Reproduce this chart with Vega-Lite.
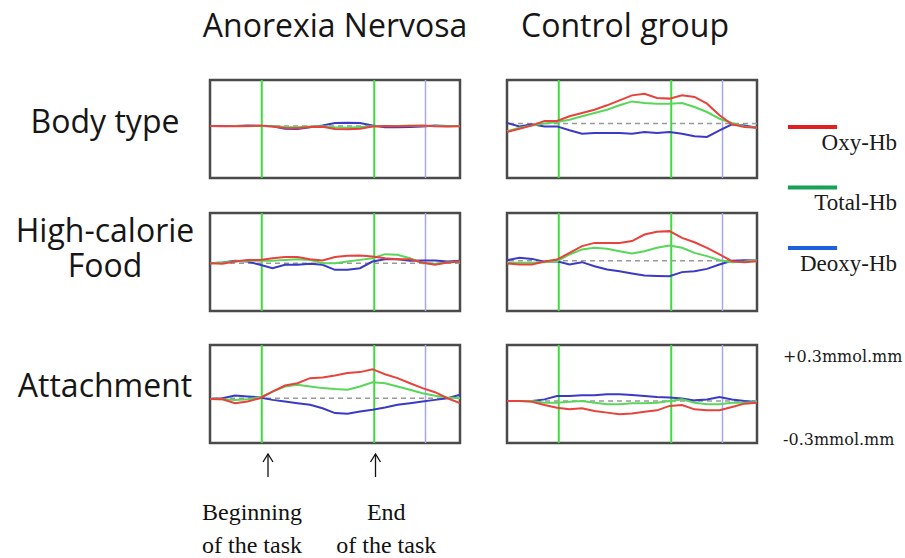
{
"$schema":"https://vega.github.io/schema/vega-lite/v6.json",
"padding":0,
"background":"white",
"config":{"view":{"stroke":null},"concat":{"spacing":0}},
"datasets":{
"hb":[
{"p":"AN1","t":0,"oxy":0.019,"tot":0.019,"deo":0.019},{"p":"AN1","t":5,"oxy":0.019,"tot":0.019,"deo":0.017},{"p":"AN1","t":10,"oxy":0.017,"tot":0.019,"deo":0.019},{"p":"AN1","t":15,"oxy":0.019,"tot":0.017,"deo":0.021},{"p":"AN1","t":20,"oxy":0.021,"tot":0.019,"deo":0.019},{"p":"AN1","t":25,"oxy":0.015,"tot":0.019,"deo":0.017},{"p":"AN1","t":30,"oxy":0.006,"tot":0.012,"deo":0.002},{"p":"AN1","t":35,"oxy":0.004,"tot":0.010,"deo":0.000},{"p":"AN1","t":40,"oxy":0.012,"tot":0.015,"deo":0.010},{"p":"AN1","t":45,"oxy":0.014,"tot":0.017,"deo":0.021},{"p":"AN1","t":50,"oxy":0.000,"tot":0.010,"deo":0.036},{"p":"AN1","t":55,"oxy":-0.002,"tot":0.008,"deo":0.038},{"p":"AN1","t":60,"oxy":0.002,"tot":0.012,"deo":0.036},{"p":"AN1","t":65,"oxy":0.015,"tot":0.017,"deo":0.021},{"p":"AN1","t":70,"oxy":0.019,"tot":0.019,"deo":0.011},{"p":"AN1","t":75,"oxy":0.017,"tot":0.019,"deo":0.010},{"p":"AN1","t":80,"oxy":0.019,"tot":0.021,"deo":0.012},{"p":"AN1","t":85,"oxy":0.021,"tot":0.019,"deo":0.015},{"p":"AN1","t":90,"oxy":0.017,"tot":0.019,"deo":0.021},{"p":"AN1","t":95,"oxy":0.015,"tot":0.017,"deo":0.019},{"p":"AN1","t":100,"oxy":0.017,"tot":0.019,"deo":0.019},
{"p":"CG1","t":0,"oxy":-0.018,"tot":-0.014,"deo":0.037},{"p":"CG1","t":5,"oxy":0.002,"tot":0.008,"deo":0.016},{"p":"CG1","t":10,"oxy":0.022,"tot":0.022,"deo":0.029},{"p":"CG1","t":15,"oxy":0.049,"tot":0.033,"deo":0.016},{"p":"CG1","t":20,"oxy":0.049,"tot":0.043,"deo":0.016},{"p":"CG1","t":25,"oxy":0.078,"tot":0.057,"deo":-0.008},{"p":"CG1","t":30,"oxy":0.098,"tot":0.078,"deo":-0.029},{"p":"CG1","t":35,"oxy":0.118,"tot":0.098,"deo":-0.024},{"p":"CG1","t":40,"oxy":0.145,"tot":0.118,"deo":-0.024},{"p":"CG1","t":45,"oxy":0.175,"tot":0.145,"deo":-0.024},{"p":"CG1","t":50,"oxy":0.206,"tot":0.169,"deo":-0.029},{"p":"CG1","t":55,"oxy":0.216,"tot":0.159,"deo":-0.018},{"p":"CG1","t":60,"oxy":0.190,"tot":0.155,"deo":-0.024},{"p":"CG1","t":65,"oxy":0.186,"tot":0.155,"deo":-0.018},{"p":"CG1","t":70,"oxy":0.206,"tot":0.159,"deo":-0.029},{"p":"CG1","t":75,"oxy":0.196,"tot":0.135,"deo":-0.045},{"p":"CG1","t":80,"oxy":0.155,"tot":0.104,"deo":-0.049},{"p":"CG1","t":85,"oxy":0.084,"tot":0.063,"deo":-0.008},{"p":"CG1","t":90,"oxy":0.029,"tot":0.037,"deo":0.029},{"p":"CG1","t":95,"oxy":0.012,"tot":0.016,"deo":0.022},{"p":"CG1","t":100,"oxy":0.008,"tot":0.008,"deo":0.008},
{"p":"AN2","t":0,"oxy":-0.007,"tot":-0.007,"deo":-0.007},{"p":"AN2","t":5,"oxy":-0.011,"tot":-0.003,"deo":-0.003},{"p":"AN2","t":10,"oxy":0.003,"tot":0.003,"deo":0.007},{"p":"AN2","t":15,"oxy":0.013,"tot":0.007,"deo":0.003},{"p":"AN2","t":20,"oxy":0.013,"tot":0.007,"deo":-0.017},{"p":"AN2","t":25,"oxy":0.023,"tot":0.007,"deo":-0.038},{"p":"AN2","t":30,"oxy":0.030,"tot":0.013,"deo":-0.017},{"p":"AN2","t":35,"oxy":0.030,"tot":0.017,"deo":-0.017},{"p":"AN2","t":40,"oxy":0.017,"tot":0.013,"deo":-0.011},{"p":"AN2","t":45,"oxy":0.009,"tot":-0.007,"deo":-0.017},{"p":"AN2","t":50,"oxy":0.030,"tot":-0.007,"deo":-0.048},{"p":"AN2","t":55,"oxy":0.038,"tot":0.003,"deo":-0.048},{"p":"AN2","t":60,"oxy":0.040,"tot":0.013,"deo":-0.038},{"p":"AN2","t":65,"oxy":0.034,"tot":0.023,"deo":0.003},{"p":"AN2","t":70,"oxy":0.023,"tot":0.048,"deo":0.017},{"p":"AN2","t":75,"oxy":0.017,"tot":0.044,"deo":0.017},{"p":"AN2","t":80,"oxy":0.017,"tot":0.023,"deo":0.007},{"p":"AN2","t":85,"oxy":-0.003,"tot":-0.007,"deo":0.009},{"p":"AN2","t":90,"oxy":-0.017,"tot":-0.011,"deo":0.009},{"p":"AN2","t":95,"oxy":-0.003,"tot":-0.003,"deo":0.003},{"p":"AN2","t":100,"oxy":0.003,"tot":0.003,"deo":0.007},
{"p":"CG2","t":0,"oxy":-0.009,"tot":-0.005,"deo":0.011},{"p":"CG2","t":5,"oxy":-0.015,"tot":-0.005,"deo":0.026},{"p":"CG2","t":10,"oxy":-0.015,"tot":-0.005,"deo":0.019},{"p":"CG2","t":15,"oxy":0.003,"tot":-0.001,"deo":0.001},{"p":"CG2","t":20,"oxy":0.015,"tot":0.005,"deo":0.005},{"p":"CG2","t":25,"oxy":0.056,"tot":0.046,"deo":-0.015},{"p":"CG2","t":30,"oxy":0.097,"tot":0.077,"deo":-0.001},{"p":"CG2","t":35,"oxy":0.117,"tot":0.087,"deo":-0.026},{"p":"CG2","t":40,"oxy":0.117,"tot":0.081,"deo":-0.046},{"p":"CG2","t":45,"oxy":0.117,"tot":0.066,"deo":-0.056},{"p":"CG2","t":50,"oxy":0.128,"tot":0.052,"deo":-0.070},{"p":"CG2","t":55,"oxy":0.168,"tot":0.066,"deo":-0.083},{"p":"CG2","t":60,"oxy":0.185,"tot":0.087,"deo":-0.085},{"p":"CG2","t":65,"oxy":0.189,"tot":0.101,"deo":-0.087},{"p":"CG2","t":70,"oxy":0.148,"tot":0.087,"deo":-0.062},{"p":"CG2","t":75,"oxy":0.121,"tot":0.056,"deo":-0.056},{"p":"CG2","t":80,"oxy":0.087,"tot":0.036,"deo":-0.042},{"p":"CG2","t":85,"oxy":0.046,"tot":0.011,"deo":-0.015},{"p":"CG2","t":90,"oxy":0.005,"tot":-0.001,"deo":0.007},{"p":"CG2","t":95,"oxy":-0.001,"tot":0.003,"deo":0.011},{"p":"CG2","t":100,"oxy":0.005,"tot":0.009,"deo":0.009},
{"p":"AN3","t":0,"oxy":-0.030,"tot":-0.030,"deo":-0.030},{"p":"AN3","t":5,"oxy":-0.032,"tot":-0.032,"deo":-0.026},{"p":"AN3","t":10,"oxy":-0.056,"tot":-0.036,"deo":-0.009},{"p":"AN3","t":15,"oxy":-0.046,"tot":-0.032,"deo":-0.015},{"p":"AN3","t":20,"oxy":-0.026,"tot":-0.021,"deo":-0.021},{"p":"AN3","t":25,"oxy":0.015,"tot":0.015,"deo":-0.036},{"p":"AN3","t":30,"oxy":0.052,"tot":0.046,"deo":-0.046},{"p":"AN3","t":35,"oxy":0.066,"tot":0.056,"deo":-0.056},{"p":"AN3","t":40,"oxy":0.097,"tot":0.046,"deo":-0.066},{"p":"AN3","t":45,"oxy":0.101,"tot":0.036,"deo":-0.087},{"p":"AN3","t":50,"oxy":0.113,"tot":0.030,"deo":-0.117},{"p":"AN3","t":55,"oxy":0.128,"tot":0.026,"deo":-0.121},{"p":"AN3","t":60,"oxy":0.134,"tot":0.046,"deo":-0.107},{"p":"AN3","t":65,"oxy":0.152,"tot":0.072,"deo":-0.097},{"p":"AN3","t":70,"oxy":0.121,"tot":0.066,"deo":-0.083},{"p":"AN3","t":75,"oxy":0.097,"tot":0.046,"deo":-0.066},{"p":"AN3","t":80,"oxy":0.066,"tot":0.026,"deo":-0.056},{"p":"AN3","t":85,"oxy":0.036,"tot":0.005,"deo":-0.046},{"p":"AN3","t":90,"oxy":0.011,"tot":-0.011,"deo":-0.036},{"p":"AN3","t":95,"oxy":-0.026,"tot":-0.021,"deo":-0.026},{"p":"AN3","t":100,"oxy":-0.056,"tot":-0.026,"deo":-0.005},
{"p":"CG3","t":0,"oxy":-0.043,"tot":-0.043,"deo":-0.043},{"p":"CG3","t":5,"oxy":-0.043,"tot":-0.043,"deo":-0.043},{"p":"CG3","t":10,"oxy":-0.047,"tot":-0.043,"deo":-0.043},{"p":"CG3","t":15,"oxy":-0.067,"tot":-0.053,"deo":-0.033},{"p":"CG3","t":20,"oxy":-0.084,"tot":-0.053,"deo":-0.012},{"p":"CG3","t":25,"oxy":-0.094,"tot":-0.047,"deo":-0.012},{"p":"CG3","t":30,"oxy":-0.088,"tot":-0.043,"deo":-0.008},{"p":"CG3","t":35,"oxy":-0.104,"tot":-0.053,"deo":-0.008},{"p":"CG3","t":40,"oxy":-0.114,"tot":-0.063,"deo":-0.002},{"p":"CG3","t":45,"oxy":-0.124,"tot":-0.063,"deo":-0.002},{"p":"CG3","t":50,"oxy":-0.120,"tot":-0.057,"deo":-0.006},{"p":"CG3","t":55,"oxy":-0.108,"tot":-0.057,"deo":-0.012},{"p":"CG3","t":60,"oxy":-0.100,"tot":-0.053,"deo":-0.018},{"p":"CG3","t":65,"oxy":-0.073,"tot":-0.043,"deo":-0.022},{"p":"CG3","t":70,"oxy":-0.067,"tot":-0.033,"deo":-0.027},{"p":"CG3","t":75,"oxy":-0.094,"tot":-0.053,"deo":-0.039},{"p":"CG3","t":80,"oxy":-0.100,"tot":-0.063,"deo":-0.033},{"p":"CG3","t":85,"oxy":-0.100,"tot":-0.063,"deo":-0.018},{"p":"CG3","t":90,"oxy":-0.080,"tot":-0.053,"deo":-0.033},{"p":"CG3","t":95,"oxy":-0.059,"tot":-0.053,"deo":-0.043},{"p":"CG3","t":100,"oxy":-0.053,"tot":-0.049,"deo":-0.049}
],
"ev":[{"t":20.7,"k":"task"},{"t":65.7,"k":"task"},{"t":86.2,"k":"post"}],
"base":[{"p":"AN1","b":0.019},{"p":"CG1","b":0.033},{"p":"AN2","b":-0.007},{"p":"CG2","b":0.007},{"p":"AN3","b":-0.026},{"p":"CG3","b":-0.043}],
"leg":[{"s":"oxy","label":"Oxy-Hb","r":0},{"s":"tot","label":"Total-Hb","r":1},{"s":"deo","label":"Deoxy-Hb","r":2}]
},
"columns":5,
"spacing":0,
"align":"each",
"bounds":"flush",
"concat":[
 {"width":210,"height":80,"data":{"values":[{}]},"mark":{"type":"text","text":""}},
 {"width":250,"height":80,"data":{"values":[{"l":"Anorexia Nervosa"}]},"mark":{"type":"text","font":"Open Sans","fontSize":32,"baseline":"alphabetic","dy":-3,"color":"#161616"},"encoding":{"text":{"field":"l"}}},
 {"width":47,"height":80,"data":{"values":[{}]},"mark":{"type":"text","text":""}},
 {"width":250,"height":80,"data":{"values":[{"l":"Control group"}]},"mark":{"type":"text","font":"Open Sans","fontSize":32,"baseline":"alphabetic","dy":-3,"dx":-7,"color":"#161616"},"encoding":{"text":{"field":"l"}}},
 {"width":148,"height":80,"data":{"values":[{}]},"mark":{"type":"text","text":""}},

 {"width":210,"height":98,"data":{"values":[{"l":"Body type"}]},"mark":{"type":"text","font":"Open Sans","fontSize":32,"baseline":"alphabetic","dy":4,"color":"#161616"},"encoding":{"text":{"field":"l"}}},
 {"width":250,"height":98,"view":{"stroke":"#4a4a4a","strokeWidth":2.5},"layer":[
  {"data":{"name":"ev"},"transform":[{"filter":"datum.k=='task'"}],"mark":{"type":"rule","color":"#3ddc3d","strokeWidth":2},"encoding":{"x":{"field":"t","type":"quantitative","scale":{"domain":[0,100],"nice":false,"zero":false},"axis":null}}},
  {"data":{"name":"ev"},"transform":[{"filter":"datum.k=='post'"}],"mark":{"type":"rule","color":"#a6a6f2","strokeWidth":1.5},"encoding":{"x":{"field":"t","type":"quantitative","axis":null}}},
  {"data":{"name":"base"},"transform":[{"filter":"datum.p=='AN1'"}],"mark":{"type":"rule","color":"#9a9a9a","strokeWidth":1.5,"strokeDash":[5,4]},"encoding":{"y":{"field":"b","type":"quantitative","scale":{"domain":[-0.3,0.3],"nice":false,"zero":false},"axis":null}}},
  {"data":{"name":"hb"},"transform":[{"filter":"datum.p=='AN1'"},{"fold":["deo","tot","oxy"],"as":["s","v"]}],"mark":{"type":"line","strokeWidth":2},"encoding":{"x":{"field":"t","type":"quantitative","axis":null},"y":{"field":"v","type":"quantitative","axis":null},"color":{"field":"s","type":"nominal","scale":{"domain":["oxy","tot","deo"],"range":["#e8423c","#5ad65a","#3a3ac4"]},"legend":null}}}
 ]},
 {"width":47,"height":98,"data":{"values":[{}]},"mark":{"type":"text","text":""}},
 {"width":250,"height":98,"view":{"stroke":"#4a4a4a","strokeWidth":2.5},"layer":[
  {"data":{"name":"ev"},"transform":[{"filter":"datum.k=='task'"}],"mark":{"type":"rule","color":"#3ddc3d","strokeWidth":2},"encoding":{"x":{"field":"t","type":"quantitative","scale":{"domain":[0,100],"nice":false,"zero":false},"axis":null}}},
  {"data":{"name":"ev"},"transform":[{"filter":"datum.k=='post'"}],"mark":{"type":"rule","color":"#a6a6f2","strokeWidth":1.5},"encoding":{"x":{"field":"t","type":"quantitative","axis":null}}},
  {"data":{"name":"base"},"transform":[{"filter":"datum.p=='CG1'"}],"mark":{"type":"rule","color":"#9a9a9a","strokeWidth":1.5,"strokeDash":[5,4]},"encoding":{"y":{"field":"b","type":"quantitative","scale":{"domain":[-0.3,0.3],"nice":false,"zero":false},"axis":null}}},
  {"data":{"name":"hb"},"transform":[{"filter":"datum.p=='CG1'"},{"fold":["deo","tot","oxy"],"as":["s","v"]}],"mark":{"type":"line","strokeWidth":2},"encoding":{"x":{"field":"t","type":"quantitative","axis":null},"y":{"field":"v","type":"quantitative","axis":null},"color":{"field":"s","type":"nominal","scale":{"domain":["oxy","tot","deo"],"range":["#e8423c","#5ad65a","#3a3ac4"]},"legend":null}}}
 ]},
 {"width":148,"height":98,"data":{"name":"leg"},"layer":[
  {"mark":{"type":"rule","strokeWidth":4},"encoding":{"x":{"datum":0.209,"type":"quantitative","scale":{"domain":[0,1],"nice":false,"zero":false},"axis":null},"x2":{"datum":0.541},"y":{"field":"r","type":"quantitative","scale":{"domain":[-0.777,0.843],"reverse":true,"nice":false,"zero":false},"axis":null},"stroke":{"field":"s","type":"nominal","scale":{"domain":["oxy","tot","deo"],"range":["#e02020","#16a058","#1e5fdc"]},"legend":null}}},
  {"mark":{"type":"text","font":"Liberation Serif","fontSize":23,"align":"right","baseline":"alphabetic","dy":23,"color":"#1a1a1a"},"encoding":{"x":{"datum":0.946,"type":"quantitative","axis":null},"y":{"field":"r","type":"quantitative","axis":null},"text":{"field":"label"}}}
 ]},

 {"width":210,"height":35,"data":{"values":[{}]},"mark":{"type":"text","text":""}},
 {"width":250,"height":35,"data":{"values":[{}]},"mark":{"type":"text","text":""}},
 {"width":47,"height":35,"data":{"values":[{}]},"mark":{"type":"text","text":""}},
 {"width":250,"height":35,"data":{"values":[{}]},"mark":{"type":"text","text":""}},
 {"width":148,"height":35,"data":{"values":[{}]},"mark":{"type":"text","text":""}},

 {"width":210,"height":98,"data":{"values":[{"l":"High-calorie\nFood"}]},"mark":{"type":"text","font":"Open Sans","fontSize":32,"baseline":"alphabetic","dy":-20,"lineHeight":35,"lineBreak":"\n","color":"#161616"},"encoding":{"text":{"field":"l"}}},
 {"width":250,"height":98,"view":{"stroke":"#4a4a4a","strokeWidth":2.5},"layer":[
  {"data":{"name":"ev"},"transform":[{"filter":"datum.k=='task'"}],"mark":{"type":"rule","color":"#3ddc3d","strokeWidth":2},"encoding":{"x":{"field":"t","type":"quantitative","scale":{"domain":[0,100],"nice":false,"zero":false},"axis":null}}},
  {"data":{"name":"ev"},"transform":[{"filter":"datum.k=='post'"}],"mark":{"type":"rule","color":"#a6a6f2","strokeWidth":1.5},"encoding":{"x":{"field":"t","type":"quantitative","axis":null}}},
  {"data":{"name":"base"},"transform":[{"filter":"datum.p=='AN2'"}],"mark":{"type":"rule","color":"#9a9a9a","strokeWidth":1.5,"strokeDash":[5,4]},"encoding":{"y":{"field":"b","type":"quantitative","scale":{"domain":[-0.3,0.3],"nice":false,"zero":false},"axis":null}}},
  {"data":{"name":"hb"},"transform":[{"filter":"datum.p=='AN2'"},{"fold":["deo","tot","oxy"],"as":["s","v"]}],"mark":{"type":"line","strokeWidth":2},"encoding":{"x":{"field":"t","type":"quantitative","axis":null},"y":{"field":"v","type":"quantitative","axis":null},"color":{"field":"s","type":"nominal","scale":{"domain":["oxy","tot","deo"],"range":["#e8423c","#5ad65a","#3a3ac4"]},"legend":null}}}
 ]},
 {"width":47,"height":98,"data":{"values":[{}]},"mark":{"type":"text","text":""}},
 {"width":250,"height":98,"view":{"stroke":"#4a4a4a","strokeWidth":2.5},"layer":[
  {"data":{"name":"ev"},"transform":[{"filter":"datum.k=='task'"}],"mark":{"type":"rule","color":"#3ddc3d","strokeWidth":2},"encoding":{"x":{"field":"t","type":"quantitative","scale":{"domain":[0,100],"nice":false,"zero":false},"axis":null}}},
  {"data":{"name":"ev"},"transform":[{"filter":"datum.k=='post'"}],"mark":{"type":"rule","color":"#a6a6f2","strokeWidth":1.5},"encoding":{"x":{"field":"t","type":"quantitative","axis":null}}},
  {"data":{"name":"base"},"transform":[{"filter":"datum.p=='CG2'"}],"mark":{"type":"rule","color":"#9a9a9a","strokeWidth":1.5,"strokeDash":[5,4]},"encoding":{"y":{"field":"b","type":"quantitative","scale":{"domain":[-0.3,0.3],"nice":false,"zero":false},"axis":null}}},
  {"data":{"name":"hb"},"transform":[{"filter":"datum.p=='CG2'"},{"fold":["deo","tot","oxy"],"as":["s","v"]}],"mark":{"type":"line","strokeWidth":2},"encoding":{"x":{"field":"t","type":"quantitative","axis":null},"y":{"field":"v","type":"quantitative","axis":null},"color":{"field":"s","type":"nominal","scale":{"domain":["oxy","tot","deo"],"range":["#e8423c","#5ad65a","#3a3ac4"]},"legend":null}}}
 ]},
 {"width":148,"height":98,"data":{"values":[{}]},"mark":{"type":"text","text":""}},

 {"width":210,"height":34,"data":{"values":[{}]},"mark":{"type":"text","text":""}},
 {"width":250,"height":34,"data":{"values":[{}]},"mark":{"type":"text","text":""}},
 {"width":47,"height":34,"data":{"values":[{}]},"mark":{"type":"text","text":""}},
 {"width":250,"height":34,"data":{"values":[{}]},"mark":{"type":"text","text":""}},
 {"width":148,"height":34,"data":{"values":[{}]},"mark":{"type":"text","text":""}},

 {"width":210,"height":98,"data":{"values":[{"l":"Attachment"}]},"mark":{"type":"text","font":"Open Sans","fontSize":32,"baseline":"alphabetic","dy":3,"color":"#161616"},"encoding":{"text":{"field":"l"}}},
 {"width":250,"height":98,"view":{"stroke":"#4a4a4a","strokeWidth":2.5},"layer":[
  {"data":{"name":"ev"},"transform":[{"filter":"datum.k=='task'"}],"mark":{"type":"rule","color":"#3ddc3d","strokeWidth":2},"encoding":{"x":{"field":"t","type":"quantitative","scale":{"domain":[0,100],"nice":false,"zero":false},"axis":null}}},
  {"data":{"name":"ev"},"transform":[{"filter":"datum.k=='post'"}],"mark":{"type":"rule","color":"#a6a6f2","strokeWidth":1.5},"encoding":{"x":{"field":"t","type":"quantitative","axis":null}}},
  {"data":{"name":"base"},"transform":[{"filter":"datum.p=='AN3'"}],"mark":{"type":"rule","color":"#9a9a9a","strokeWidth":1.5,"strokeDash":[5,4]},"encoding":{"y":{"field":"b","type":"quantitative","scale":{"domain":[-0.3,0.3],"nice":false,"zero":false},"axis":null}}},
  {"data":{"name":"hb"},"transform":[{"filter":"datum.p=='AN3'"},{"fold":["deo","tot","oxy"],"as":["s","v"]}],"mark":{"type":"line","strokeWidth":2},"encoding":{"x":{"field":"t","type":"quantitative","axis":null},"y":{"field":"v","type":"quantitative","axis":null},"color":{"field":"s","type":"nominal","scale":{"domain":["oxy","tot","deo"],"range":["#e8423c","#5ad65a","#3a3ac4"]},"legend":null}}}
 ]},
 {"width":47,"height":98,"data":{"values":[{}]},"mark":{"type":"text","text":""}},
 {"width":250,"height":98,"view":{"stroke":"#4a4a4a","strokeWidth":2.5},"layer":[
  {"data":{"name":"ev"},"transform":[{"filter":"datum.k=='task'"}],"mark":{"type":"rule","color":"#3ddc3d","strokeWidth":2},"encoding":{"x":{"field":"t","type":"quantitative","scale":{"domain":[0,100],"nice":false,"zero":false},"axis":null}}},
  {"data":{"name":"ev"},"transform":[{"filter":"datum.k=='post'"}],"mark":{"type":"rule","color":"#a6a6f2","strokeWidth":1.5},"encoding":{"x":{"field":"t","type":"quantitative","axis":null}}},
  {"data":{"name":"base"},"transform":[{"filter":"datum.p=='CG3'"}],"mark":{"type":"rule","color":"#9a9a9a","strokeWidth":1.5,"strokeDash":[5,4]},"encoding":{"y":{"field":"b","type":"quantitative","scale":{"domain":[-0.3,0.3],"nice":false,"zero":false},"axis":null}}},
  {"data":{"name":"hb"},"transform":[{"filter":"datum.p=='CG3'"},{"fold":["deo","tot","oxy"],"as":["s","v"]}],"mark":{"type":"line","strokeWidth":2},"encoding":{"x":{"field":"t","type":"quantitative","axis":null},"y":{"field":"v","type":"quantitative","axis":null},"color":{"field":"s","type":"nominal","scale":{"domain":["oxy","tot","deo"],"range":["#e8423c","#5ad65a","#3a3ac4"]},"legend":null}}}
 ]},
 {"width":148,"height":98,"layer":[
  {"data":{"values":[{"l":"+0.3mmol.mm","v":0.3}]},"mark":{"type":"text","font":"DejaVu Serif","fontSize":16,"align":"left","baseline":"alphabetic","dy":17,"color":"#1a1a1a"},"encoding":{"x":{"datum":0.176,"type":"quantitative","scale":{"domain":[0,1],"nice":false,"zero":false},"axis":null},"y":{"field":"v","type":"quantitative","scale":{"domain":[-0.3,0.3],"nice":false,"zero":false},"axis":null},"text":{"field":"l"}}},
  {"data":{"values":[{"l":"-0.3mmol.mm","v":-0.3}]},"mark":{"type":"text","font":"DejaVu Serif","fontSize":16,"align":"left","baseline":"alphabetic","dy":2,"color":"#1a1a1a"},"encoding":{"x":{"datum":0.176,"type":"quantitative","axis":null},"y":{"field":"v","type":"quantitative","axis":null},"text":{"field":"l"}}}
 ]},

 {"width":210,"height":115,"data":{"values":[{}]},"mark":{"type":"text","text":""}},
 {"width":250,"height":115,"layer":[
  {"data":{"values":[{"t":23.2},{"t":66.2}]},"mark":{"type":"rule","color":"#111","strokeWidth":1.3},"encoding":{"x":{"field":"t","type":"quantitative","scale":{"domain":[0,100],"nice":false,"zero":false},"axis":null},"y":{"datum":11,"type":"quantitative","scale":{"domain":[0,115],"reverse":true,"nice":false,"zero":false},"axis":null},"y2":{"datum":34}}},
  {"data":{"values":[{"t":23.2},{"t":66.2}]},"mark":{"type":"point","shape":"M-1,1.6L0,0L1,1.6","filled":false,"stroke":"#111","strokeWidth":1.3,"size":100,"opacity":1},"encoding":{"x":{"field":"t","type":"quantitative","axis":null},"y":{"datum":11,"type":"quantitative","axis":null}}},
  {"data":{"values":[{"t":16.8,"label":"Beginning\nof the task"},{"t":70.5,"label":"End\nof the task"}]},"mark":{"type":"text","font":"Liberation Serif","fontSize":24,"lineHeight":33,"lineBreak":"\n","align":"center","baseline":"alphabetic","color":"#111"},"encoding":{"x":{"field":"t","type":"quantitative","axis":null},"y":{"datum":77,"type":"quantitative","axis":null},"text":{"field":"label"}}}
 ]},
 {"width":47,"height":115,"data":{"values":[{}]},"mark":{"type":"text","text":""}},
 {"width":250,"height":115,"data":{"values":[{}]},"mark":{"type":"text","text":""}},
 {"width":148,"height":115,"data":{"values":[{}]},"mark":{"type":"text","text":""}}
]
}
